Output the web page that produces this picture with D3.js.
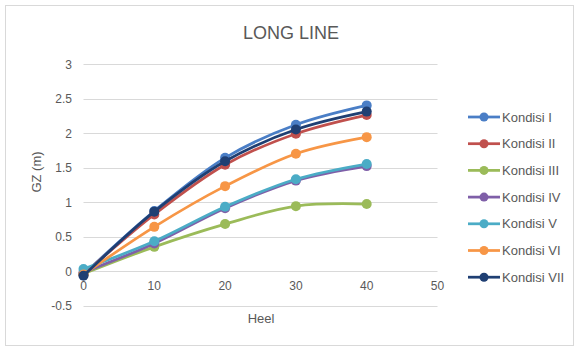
<!DOCTYPE html>
<html><head><meta charset="utf-8">
<script src="https://cdn.jsdelivr.net/npm/d3@7/dist/d3.min.js"></script>
<style>body{margin:0;background:#fff;} svg{display:block;font-family:"Liberation Sans",Arial,sans-serif;}</style>
</head><body>
<svg id="c" width="575" height="347"></svg>
<script>
const heel = [0, 10, 20, 30, 40];
const seriesNames = ["Kondisi I","Kondisi II","Kondisi III","Kondisi IV","Kondisi V","Kondisi VI","Kondisi VII"];
const kondisiI   = [-0.05, 0.87, 1.64, 2.12, 2.40];
const kondisiII  = [-0.05, 0.82, 1.54, 1.99, 2.26];
const kondisiIII = [-0.04, 0.35, 0.68, 0.94, 0.97];
const kondisiIV  = [-0.02, 0.40, 0.91, 1.31, 1.52];
const kondisiV   = [0.03, 0.43, 0.93, 1.33, 1.55];
const kondisiVI  = [-0.05, 0.64, 1.23, 1.70, 1.94];
const kondisiVII = [-0.07, 0.86, 1.59, 2.05, 2.31];
const colors = ["#4a7ec6","#c0504d","#9bbb59","#7f5fa8","#4bacc6","#f79646","#1f3f73"];
const xTicks = [0,10,20,30,40,50];
const yTicks = [-0.5,0,0.5,1,1.5,2,2.5,3];

const values = [kondisiI,kondisiII,kondisiIII,kondisiIV,kondisiV,kondisiVI,kondisiVII];
const svg = d3.select("#c");
svg.append("rect").attr("x",5.5).attr("y",5.5).attr("width",568).attr("height",340)
  .attr("fill","#fff").attr("stroke","#d9d9d9");

const x = d3.scaleLinear().domain([0,50]).range([83.5,437.5]);
const y = d3.scaleLinear().domain([-0.5,3]).range([305.5,64]);

// gridlines
svg.append("g").selectAll("line").data(yTicks).join("line")
  .attr("x1",x(0)).attr("x2",x(50)).attr("y1",d=>Math.round(y(d))+0.5).attr("y2",d=>Math.round(y(d))+0.5)
  .attr("stroke","#d9d9d9").attr("stroke-width",1);

// y tick labels
svg.append("g").selectAll("text").data(yTicks).join("text")
  .attr("x",72).attr("y",d=>y(d)+4.5).attr("text-anchor","end")
  .attr("font-size",12).attr("fill","#595959").text(d=>d);

// x tick labels (below zero line)
svg.append("g").selectAll("text").data(xTicks).join("text")
  .attr("x",d=>x(d)).attr("y",y(0)+19).attr("text-anchor","middle")
  .attr("font-size",12).attr("fill","#595959").text(d=>d);

// titles
svg.append("text").attr("x",291).attr("y",39).attr("text-anchor","middle")
  .attr("font-size",18).attr("fill","#595959").text("LONG LINE");
svg.append("text").attr("x",261).attr("y",323).attr("text-anchor","middle")
  .attr("font-size",13).attr("fill","#595959").text("Heel");
svg.append("text").attr("transform","translate(41,172) rotate(-90)").attr("text-anchor","middle")
  .attr("font-size",13).attr("fill","#595959").text("GZ (m)");

const line = d3.line().x((d,i)=>x(heel[i])).y(d=>y(d)).curve(d3.curveCatmullRom.alpha(0.5));
const g = svg.append("g");
values.forEach((vals,k)=>{
  g.append("path").attr("d",line(vals)).attr("fill","none").attr("stroke",colors[k]).attr("stroke-width",2.75);
  g.append("g").selectAll("circle").data(vals).join("circle")
    .attr("cx",(d,i)=>x(heel[i])).attr("cy",d=>y(d)).attr("r",5).attr("fill",colors[k]);
});

// legend
const lg = svg.append("g");
seriesNames.forEach((n,k)=>{
  const yy = 117 + k*26.7;
  lg.append("line").attr("x1",468).attr("x2",500).attr("y1",yy).attr("y2",yy).attr("stroke",colors[k]).attr("stroke-width",2.75);
  lg.append("circle").attr("cx",484).attr("cy",yy).attr("r",4.5).attr("fill",colors[k]);
  lg.append("text").attr("x",502).attr("y",yy+4.5).attr("font-size",13).attr("fill","#595959").text(n);
});
</script>
</body></html>
